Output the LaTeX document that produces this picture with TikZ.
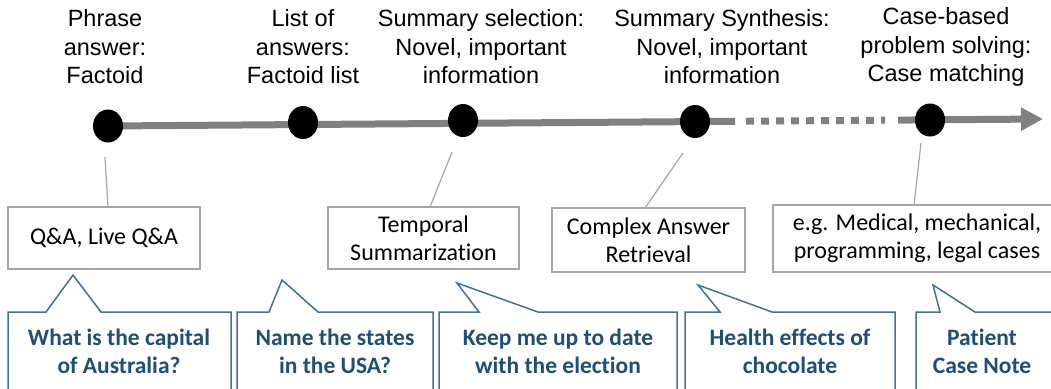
\documentclass[tikz,border=0pt]{standalone}
\usepackage{fontspec}
\setmainfont{Liberation Sans}
\newfontfamily\calfont[Ligatures={NoCommon,NoContextual}]{Carlito}
\usetikzlibrary{arrows.meta,shapes.geometric}
\definecolor{tlgray}{HTML}{808080}
\definecolor{boxgray}{HTML}{A6A6A6}
\definecolor{cborder}{HTML}{41719C}
\definecolor{ctext}{HTML}{1F4E79}
\tikzset{
  toplabel/.style={align=center,font=\fontsize{23.5}{28.5}\selectfont,inner sep=0pt},
  dotnode/.style={ellipse,fill=black,minimum width=30pt,minimum height=33pt,inner sep=0pt},
  graybox/.style={draw=boxgray,line width=1.5pt,fill=white,align=center,font=\calfont\fontsize{24}{28}\selectfont,inner sep=0pt},
  conn/.style={draw=boxgray,line width=1.2pt},
  ctxt/.style={align=center,text=ctext,font=\calfont\bfseries\fontsize{23.5}{28}\selectfont,inner sep=0pt},
  callout/.style={draw=cborder,line width=1.5pt,fill=white,line join=miter},
  tl/.style={tlgray,line width=7pt},
}
\begin{document}
\begin{tikzpicture}[x=1pt,y=-1pt]
\useasboundingbox (0,0) rectangle (1051,388);
\clip (0,0) rectangle (1051,388);
% timeline
\coordinate (t0) at (108,126);
\coordinate (ts) at (735,121.3);
\coordinate (dsa) at (746,121.2);
\coordinate (dsb) at (885,120.2);
\coordinate (te0) at (898,120.1);
\coordinate (tend) at (1043,119);
\draw[tl] (t0) -- (ts);
\draw[tl,dash pattern=on 8pt off 7pt] (dsa) -- (dsb);
\draw[tl,-{Triangle[length=22pt,width=22pt]}] (te0) -- (tend);
% dots
\node[dotnode] (d1) at (108,126) {};
\node[dotnode] (d2) at (303,122.5) {};
\node[dotnode] (d3) at (463,120.5) {};
\node[dotnode] (d4) at (695,121.5) {};
\node[dotnode] (d5) at (930,120) {};
% top labels
\node[toplabel] (L1) at (105,47) {Phrase\\answer:\\Factoid};
\node[toplabel] (L2) at (303,47) {List of\\answers:\\Factoid list};
\node[toplabel] (L3) at (481,47) {Summary selection:\\Novel, important\\information};
\node[toplabel] (L4) at (722,47) {Summary Synthesis:\\Novel, important\\information};
\node[toplabel] (L5) at (946,47) {Case-based\\problem solving:\\Case matching};
% gray boxes
\node[graybox,minimum width=192pt,minimum height=62pt] (b1) at (104,238) {Q\&A, Live Q\&A};
\node[graybox,minimum width=191pt,minimum height=62pt] (b2) at (423.5,238) {Temporal\\Summarization};
\node[graybox,minimum width=193pt,minimum height=64pt] (b3) at (648.5,240) {Complex Answer\\Retrieval};
\node[graybox,minimum width=288pt,minimum height=67pt] (b4) at (917,238.5) {e.g. Medical, mechanical,\\programming, legal cases};
% connectors
\coordinate (c1a) at (105,157); \coordinate (c1b) at (108,207);
\coordinate (c2a) at (452,152); \coordinate (c2b) at (430,207);
\coordinate (c3a) at (683,153); \coordinate (c3b) at (645,208);
\coordinate (c4a) at (921,143); \coordinate (c4b) at (914,205);
\draw[conn] (c1a) -- (c1b);
\draw[conn] (c2a) -- (c2b);
\draw[conn] (c3a) -- (c3b);
\draw[conn] (c4a) -- (c4b);
% callouts
\draw[callout] (8,400) -- (8,312) -- (46,312) -- (73,275) -- (101,312) -- (231,312) -- (231,400);
\draw[callout] (237,400) -- (237,312) -- (269,312) -- (282,280) -- (318,312) -- (433,312) -- (433,400);
\draw[callout] (439,400) -- (439,312) -- (479,312) -- (457,283) -- (538,312) -- (677,312) -- (677,400);
\draw[callout] (685,400) -- (685,312) -- (720,312) -- (698,285) -- (772,312) -- (895,312) -- (895,400);
\draw[callout] (916,400) -- (916,312) -- (940,312) -- (933,285) -- (975,312) -- (1060,312) -- (1060,400);
\node[ctxt] (q1) at (119,351) {What is the capital\\of Australia?};
\node[ctxt] (q2) at (335,351) {Name the states\\in the USA?};
\node[ctxt] (q3) at (558,351) {Keep me up to date\\with the election};
\node[ctxt] (q4) at (790,351) {Health effects of\\chocolate};
\node[ctxt] (q5) at (982,351) {Patient\\Case Note};
\end{tikzpicture}
\end{document}
